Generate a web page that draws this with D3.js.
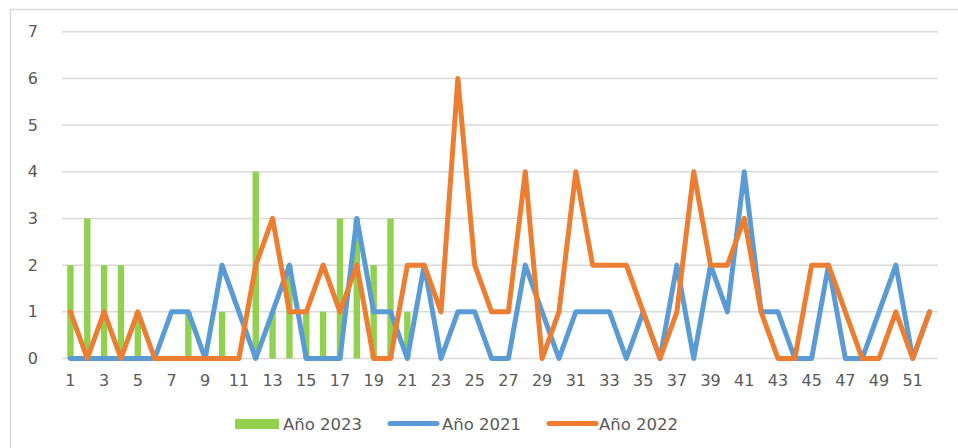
<!DOCTYPE html>
<html>
<head>
<meta charset="utf-8">
<script src="https://cdn.jsdelivr.net/npm/d3@7"></script>
<style>
  body { margin: 0; background: #fff; }
  text { font-family: "DejaVu Sans", sans-serif; fill: #595959; }
</style>
</head>
<body>
<svg width="958" height="448"></svg>
<script>
var svg = d3.select('svg');

// weeks 1..52
var weeks = d3.range(1, 53);
var yTicks = [0, 1, 2, 3, 4, 5, 6, 7];

var anio2023 = [2,3,2,2,1,0,0,1,0,1, 0,4,1,2,1,1,3,3,2,3,
                1,0,0,0,0,0,0,0,0,0, 0,0,0,0,0,0,0,0,0,0,
                0,0,0,0,0,0,0,0,0,0, 0,0];
var anio2021 = [0,0,0,0,0,0,1,1,0,2, 1,0,1,2,0,0,0,3,1,1,
                0,2,0,1,1,0,0,2,1,0, 1,1,1,0,1,0,2,0,2,1,
                4,1,1,0,0,2,0,0,1,2, 0,1];
var anio2022 = [1,0,1,0,1,0,0,0,0,0, 0,2,3,1,1,2,1,2,0,0,
                2,2,1,6,2,1,1,4,0,1, 4,2,2,2,1,0,1,4,2,2,
                3,1,0,0,2,2,1,0,0,1, 0,1];

var series_names = ['Año 2023', 'Año 2021', 'Año 2022'];
var colors = ['#92d050', '#5b9bd5', '#ed7d31'];

var plot_left = 62;
var plot_right = 938;
var plot_top = 31.7;
var plot_bottom = 358.5;

// outer chart border
svg.append('rect')
  .attr('x', 10.5)
  .attr('y', 9.5)
  .attr('width', 960)
  .attr('height', 460)
  .attr('fill', 'none')
  .attr('stroke', '#d9d9d9')
  .attr('stroke-width', 1.5);

var x = d3.scaleBand()
  .domain(weeks)
  .range([plot_left, plot_right]);

var xBar = d3.scaleBand()
  .domain(weeks)
  .range([plot_left, plot_right])
  .paddingInner(0.62)
  .paddingOuter(0.31);

var y = d3.scaleLinear()
  .domain([0, 7])
  .range([plot_bottom, plot_top]);

// gridlines
svg.append('g')
  .selectAll('line')
  .data(yTicks)
  .enter()
  .append('line')
  .attr('x1', plot_left)
  .attr('x2', plot_right)
  .attr('y1', function(d) { return y(d); })
  .attr('y2', function(d) { return y(d); })
  .attr('stroke', '#d9d9d9')
  .attr('stroke-width', 1.5);

// y axis labels
var yAxis = svg.append('g')
  .attr('transform', 'translate(' + plot_left + ',0)')
  .call(d3.axisLeft(y).tickValues(yTicks).tickFormat(d3.format('d')).tickSize(0).tickPadding(24));
yAxis.select('.domain').remove();
yAxis.selectAll('text')
  .style('font-size', '16px')
  .attr('fill', '#595959');

// x axis labels, odd weeks only
var xAxis = svg.append('g')
  .attr('transform', 'translate(0,' + plot_bottom + ')')
  .call(d3.axisBottom(x)
    .tickValues(weeks.filter(function(d) { return d % 2 == 1; }))
    .tickSize(0)
    .tickPadding(16));
xAxis.select('.domain').remove();
xAxis.selectAll('text')
  .style('font-size', '16px')
  .attr('fill', '#595959');

// bars for 2023
svg.append('g')
  .selectAll('rect')
  .data(anio2023)
  .enter()
  .append('rect')
  .attr('x', function(d, i) { return xBar(weeks[i]); })
  .attr('width', xBar.bandwidth())
  .attr('y', function(d) { return y(d); })
  .attr('height', function(d) { return y(0) - y(d); })
  .attr('fill', colors[0]);

var line = d3.line()
  .x(function(d, i) { return x(weeks[i]) + x.bandwidth() / 2; })
  .y(function(d) { return y(d); });

[anio2021, anio2022].forEach(function(values, k) {
  svg.append('path')
    .datum(values)
    .attr('d', line)
    .attr('fill', 'none')
    .attr('stroke', colors[k + 1])
    .attr('stroke-width', 5)
    .attr('stroke-linejoin', 'round')
    .attr('stroke-linecap', 'round');
});

// legend
var legend_items = [
  { name: series_names[0], color: colors[0], type: 'bar', x: 235, tx: 283 },
  { name: series_names[1], color: colors[1], type: 'line', x: 389, tx: 442 },
  { name: series_names[2], color: colors[2], type: 'line', x: 548, tx: 599 }
];
var legend = svg.append('g');
legend_items.forEach(function(d) {
  if (d.type == 'bar') {
    legend.append('rect')
      .attr('x', d.x)
      .attr('y', 419)
      .attr('width', 44)
      .attr('height', 10)
      .attr('fill', d.color);
  } else {
    legend.append('line')
      .attr('x1', d.x + 1)
      .attr('x2', d.x + 48)
      .attr('y1', 423.5)
      .attr('y2', 423.5)
      .attr('stroke', d.color)
      .attr('stroke-width', 5)
      .attr('stroke-linecap', 'round');
  }
  legend.append('text')
    .attr('x', d.tx)
    .attr('y', 429.5)
    .style('font-size', '16.5px')
    .text(d.name);
});
</script>
</body>
</html>
